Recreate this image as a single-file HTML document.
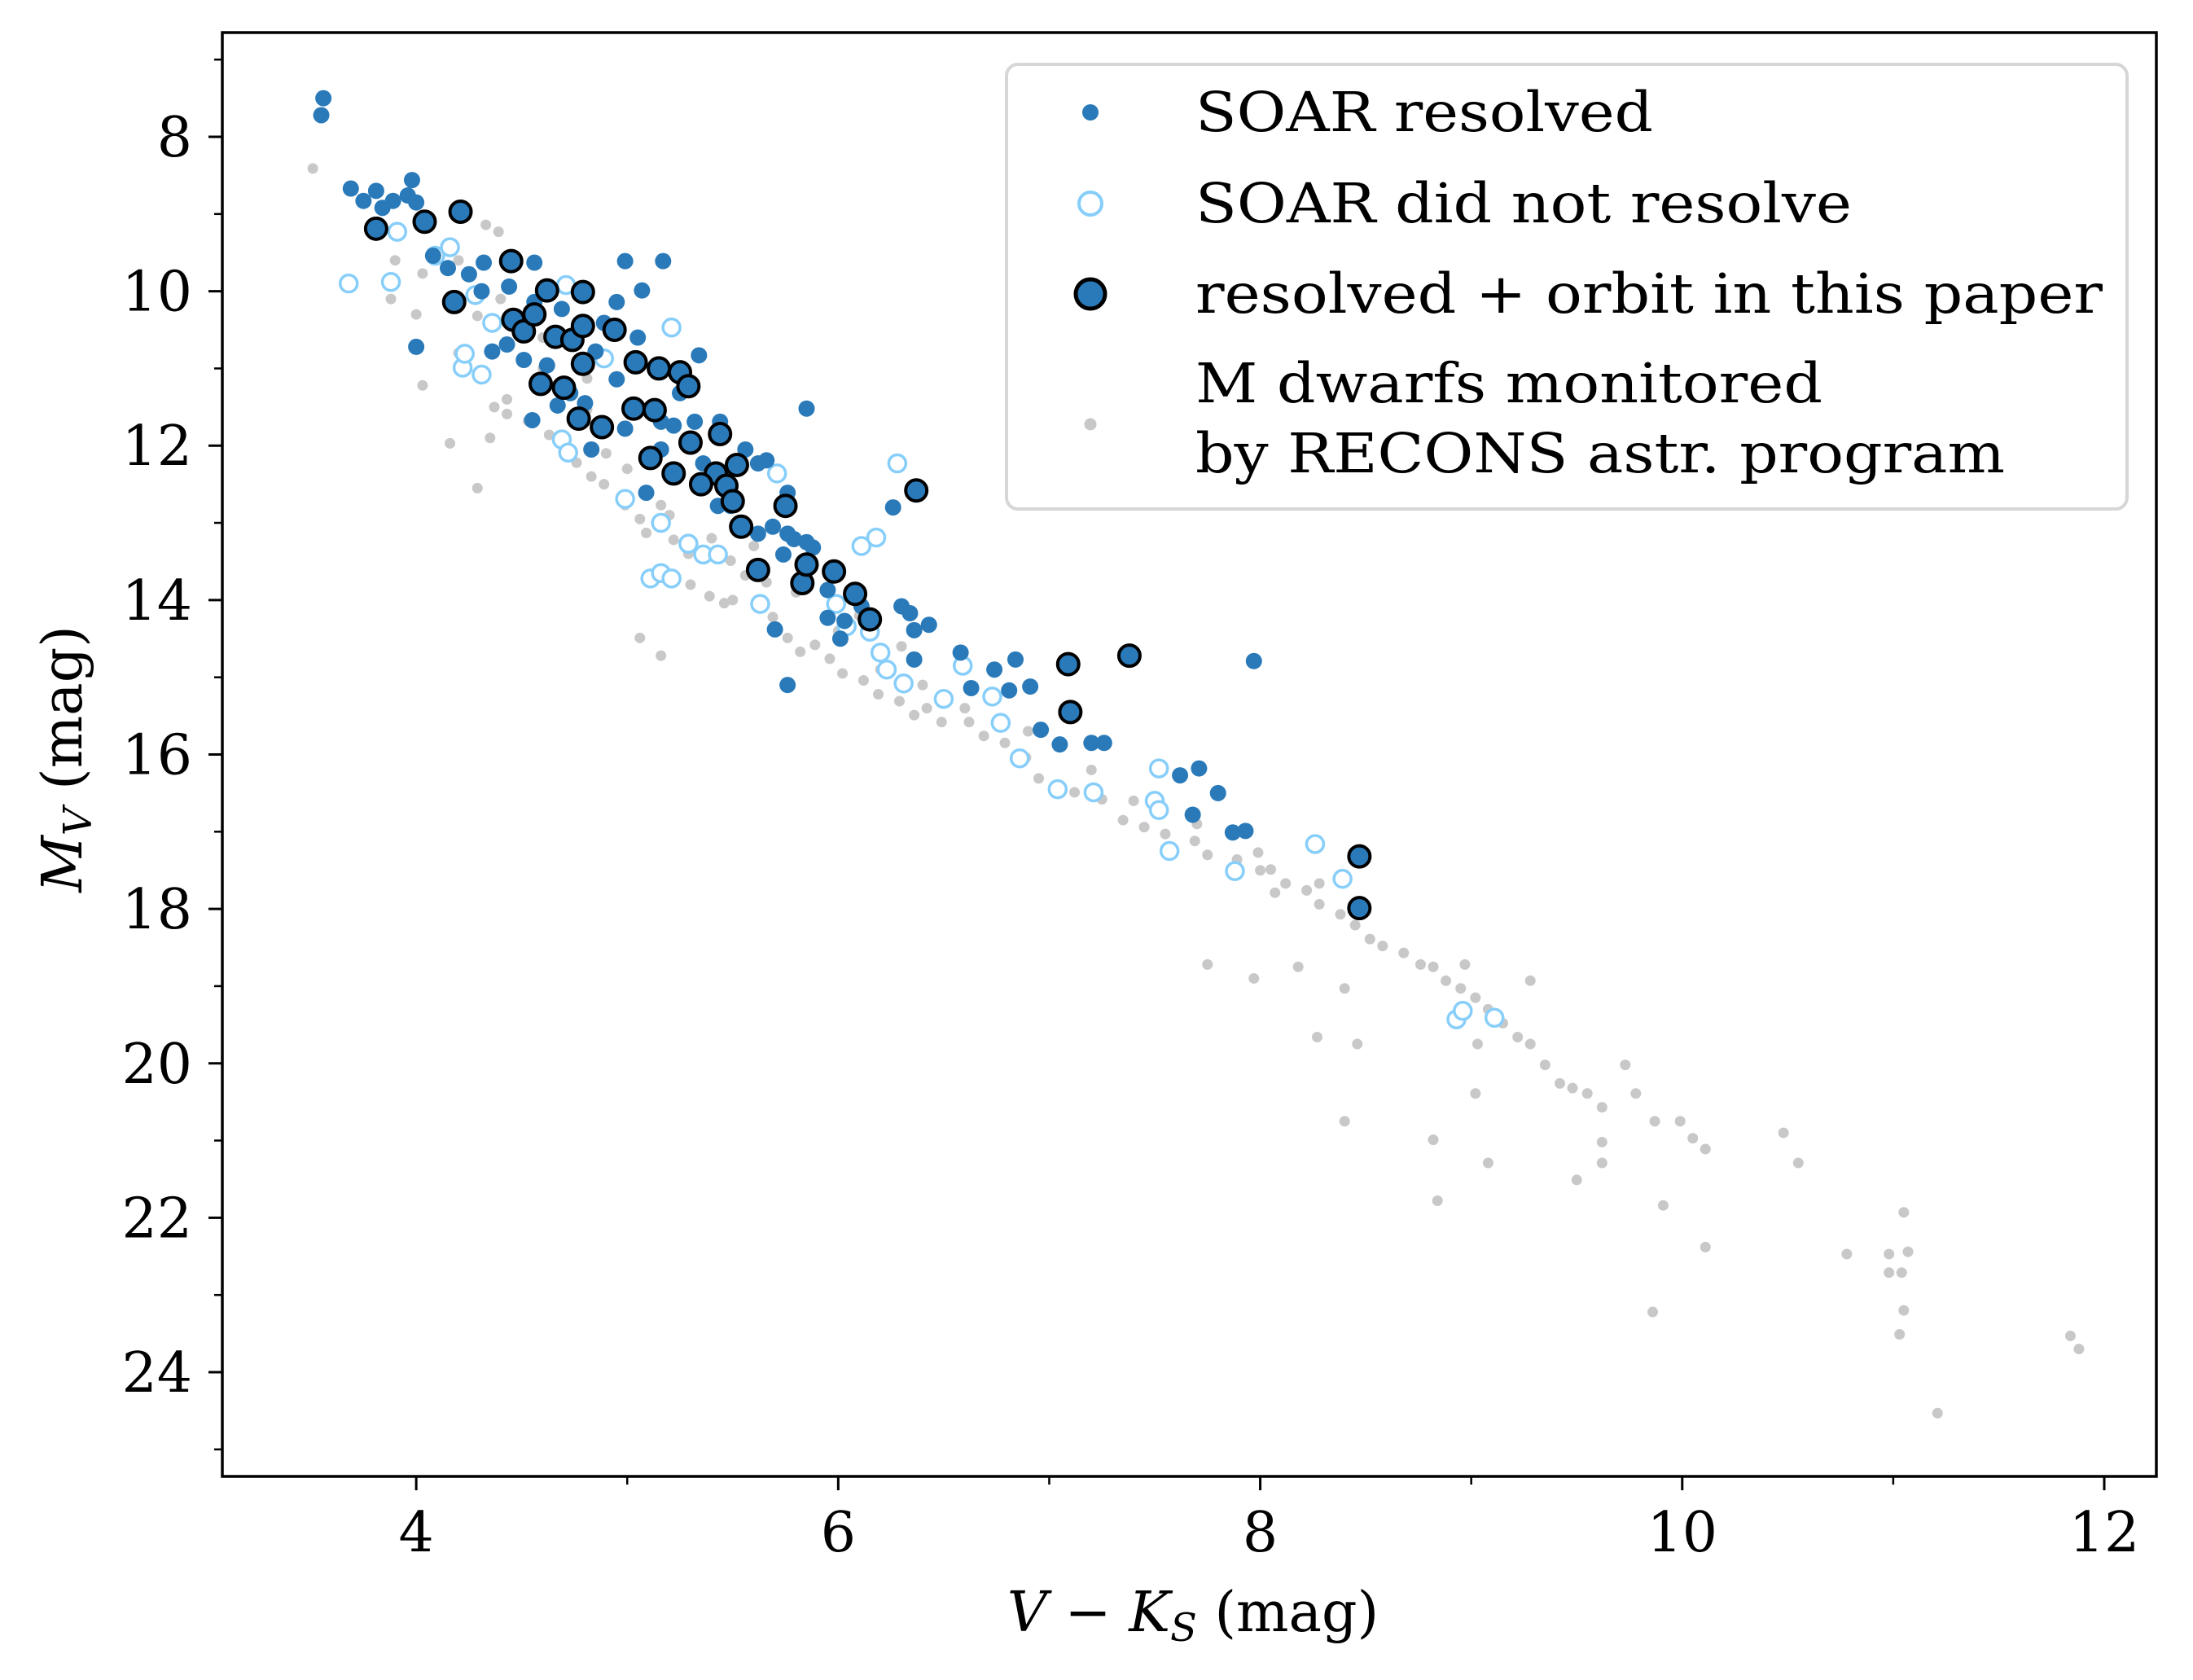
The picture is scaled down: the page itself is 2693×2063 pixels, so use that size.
<!DOCTYPE html>
<html><head><meta charset="utf-8"><style>
html,body{margin:0;padding:0;background:#fff;}
svg{display:block;font-family:"DejaVu Serif","Liberation Serif",serif;}
</style></head><body>
<svg id="chart" width="2693" height="2063" viewBox="0 0 2693 2063" xmlns="http://www.w3.org/2000/svg">
<rect x="0" y="0" width="2693" height="2063" fill="#fff"/>
<g id="plot"></g>
<g id="axes"></g>
</svg>
<script>
const xTicks=[4,6,8,10,12];
const xMinor=[5,7,9,11];
const yTicks=[8,10,12,14,16,18,20,22,24];
const yMinor=[7,9,11,13,15,17,19,21,23,25];
const grayX=[3.51,3.88,4.03,4.16,4.29,4.33,4.39,4.03,4.16,4.29,4.37,4.43,4.53,4.63,4.76,4.83,4.89,4.99,5.06,5.09,5.16,5.22,5.29,5.39,5.46,5.49,5.56,5.66,5.69,5.76,5.82,5.89,5.96,6.02,6.12,6.19,6.29,6.36,6.42,6.49,6.62,6.69,6.79,6.89,6.95,7.05,7.12,7.25,7.35,7.45,7.55,7.69,7.75,7.89,7.99,8.05,8.12,8.22,8.28,8.38,8.45,8.52,8.58,8.68,8.76,8.82,8.88,8.95,9.02,9.08,9.15,9.22,9.28,9.35,9.42,9.48,9.55,9.62,9.73,9.78,9.87,9.99,10.05,10.11,9.62,9.50,9.62,9.91,10.11,10.48,10.55,10.78,10.98,11.05,10.98,11.07,11.05,11.03,11.04,11.21,11.84,11.88,9.86,9.02,9.08,8.82,8.84,8.40,8.40,8.27,8.46,7.75,7.97,8.28,8.07,8.18,9.28,8.97,9.03,5.16,5.06,4.81,4.81,4.43,4.53,4.5,4.6,4.7,4.9,5.0,5.2,5.4,5.6,5.8,6.0,6.2,6.4,6.6,6.9,7.2,7.4,7.7,8.0,4.2,4.4,4.6,4.2,3.9,4.0,4.35,5.3,5.5,6.1,6.3];
const grayY=[8.41,10.10,9.77,10.14,10.32,9.14,9.23,11.22,11.97,12.55,11.50,11.59,11.68,11.86,12.22,12.40,12.50,12.77,12.95,13.13,12.77,13.22,13.40,13.95,14.04,13.49,13.68,13.77,14.22,14.49,14.67,14.58,14.76,14.95,15.04,15.22,15.31,15.49,15.40,15.58,15.58,15.76,15.85,16.04,16.31,16.40,16.49,16.58,16.85,16.94,17.03,17.12,17.30,17.36,17.27,17.49,17.67,17.76,17.94,18.07,18.21,18.39,18.48,18.57,18.72,18.75,18.93,19.03,19.15,19.30,19.48,19.66,19.75,20.02,20.26,20.32,20.39,20.57,20.02,20.39,20.75,20.75,20.97,21.11,21.02,21.51,21.29,21.84,22.38,20.90,21.29,22.47,22.71,21.93,22.47,22.44,23.20,23.51,22.71,24.53,23.53,23.70,23.22,20.39,21.29,20.99,21.78,20.75,19.03,19.66,19.75,18.72,18.90,17.67,17.79,18.75,18.93,18.72,19.75,14.72,14.49,11.53,11.13,11.40,11.68,10.9,11.0,11.9,12.1,12.3,12.9,13.2,13.3,13.9,14.4,14.9,15.1,15.4,15.7,16.2,16.6,16.9,17.5,9.6,10.1,10.6,10.8,9.6,10.3,11.9,13.8,14.0,14.2,14.6];
const openX=[3.68,3.88,3.91,4.09,4.16,4.22,4.31,4.23,4.28,4.36,4.71,4.89,5.21,4.69,4.72,4.99,5.16,5.11,5.16,5.21,5.29,5.36,5.43,5.71,6.28,6.18,6.11,5.63,5.99,6.04,6.15,6.20,6.23,6.31,6.50,6.59,6.73,6.77,6.86,7.04,7.21,7.52,7.50,7.52,7.57,7.88,8.26,8.39,8.93,8.96,9.11];
const openY=[9.90,9.88,9.23,9.54,9.43,10.99,11.08,10.81,10.05,10.41,9.92,10.87,10.47,11.92,12.09,12.69,13.0,13.72,13.65,13.72,13.27,13.41,13.41,12.36,12.23,13.19,13.30,14.05,14.05,14.34,14.41,14.68,14.90,15.08,15.28,14.85,15.25,15.59,16.05,16.45,16.49,16.18,16.60,16.72,17.25,17.51,17.16,17.61,19.43,19.32,19.41];
const resX=[3.56,3.55,3.69,3.75,3.81,3.84,3.89,3.96,3.98,4.0,4.0,4.08,4.15,4.25,4.32,4.31,4.44,4.56,4.99,5.17,5.07,4.55,4.51,4.67,4.80,4.99,5.22,5.34,5.32,5.62,5.66,5.85,5.09,5.69,5.76,5.79,5.85,5.88,5.74,5.70,5.76,5.95,6.01,6.11,6.03,6.26,6.30,6.34,6.36,6.43,6.36,6.58,6.63,6.81,6.84,6.74,6.91,6.96,7.05,7.20,7.26,7.62,7.71,7.68,7.80,7.87,7.93,7.97,5.44,5.56,5.43,4.89,4.95,4.83,5.16,4.73,4.36,4.62,4.85,5.05,5.25,5.36,5.49,5.62,5.76,5.95,4.56,4.69,4.43,5.16,4.95];
const resY=[7.5,7.72,8.67,8.83,8.70,8.92,8.83,8.76,8.56,8.85,10.72,9.54,9.70,9.78,9.63,10.0,9.94,9.63,9.61,9.61,9.99,11.67,10.89,11.48,11.45,11.78,11.74,10.83,11.69,12.23,12.19,11.52,12.61,13.05,13.14,13.21,13.25,13.32,13.41,14.38,15.10,14.23,14.5,14.08,14.27,12.80,14.08,14.17,14.39,14.32,14.77,14.68,15.14,15.17,14.77,14.90,15.12,15.68,15.87,15.85,15.85,16.27,16.18,16.78,16.50,17.01,16.99,14.79,11.69,12.05,12.78,10.41,11.14,12.05,12.05,11.32,10.78,10.96,10.78,10.60,11.32,12.23,12.78,13.14,12.61,13.87,10.14,10.23,10.69,11.69,10.14];
const orbX=[3.81,4.04,4.21,4.45,4.18,4.62,4.79,4.46,4.51,4.56,4.66,4.74,4.79,4.79,4.94,5.04,5.15,5.25,5.29,4.59,4.70,4.77,4.88,5.03,5.13,5.11,5.22,5.30,5.44,5.52,5.42,5.35,5.47,5.50,5.54,5.75,6.37,5.62,5.83,5.85,5.98,6.08,6.15,7.09,7.38,7.10,8.47,8.47];
const orbY=[9.19,9.10,8.97,9.61,10.14,9.99,10.01,10.37,10.52,10.30,10.59,10.63,10.45,10.94,10.50,10.92,11.00,11.05,11.23,11.20,11.25,11.65,11.76,11.52,11.54,12.16,12.36,11.96,11.85,12.25,12.36,12.50,12.52,12.72,13.05,12.78,12.58,13.61,13.78,13.54,13.63,13.92,14.25,14.83,14.72,15.45,17.32,17.99];

const L=273,R=2648,T=40,B=1813;
const xMin=3.081,xMax=12.247,yMin=6.65,yMax=25.35;
function sx(v){return L+(v-xMin)/(xMax-xMin)*(R-L);}
function sy(v){return T+(v-yMin)/(yMax-yMin)*(B-T);}
const NS="http://www.w3.org/2000/svg";
function mk(tag,attrs,parent){const e=document.createElementNS(NS,tag);for(const k in attrs)e.setAttribute(k,attrs[k]);parent.appendChild(e);return e;}
const plot=document.getElementById('plot');
const axes=document.getElementById('axes');

for(let i=0;i<grayX.length;i++){
  const c=mk('circle',{cx:sx(grayX[i]),cy:sy(grayY[i]),r:6.5,fill:'#c8c8c8'},plot);
  
  
}
for(let i=0;i<openX.length;i++){
  const c=mk('circle',{cx:sx(openX[i]),cy:sy(openY[i]),r:10.5,fill:'#fff',stroke:'#87cefa','stroke-width':3.5},plot);
  
  
}
for(let i=0;i<resX.length;i++){
  const c=mk('circle',{cx:sx(resX[i]),cy:sy(resY[i]),r:10,fill:'#2a7ab9'},plot);
  
  
}
for(let i=0;i<orbX.length;i++){
  const c=mk('circle',{cx:sx(orbX[i]),cy:sy(orbY[i]),r:13,fill:'#2a7ab9',stroke:'#000','stroke-width':4},plot);
  
  
}

const fr=mk('rect',{x:L,y:T,width:R-L,height:B-T,fill:'none',stroke:'#000','stroke-width':3.5},axes);


xTicks.forEach(v=>{
  const x=sx(v);
  const t=mk('line',{x1:x,x2:x,y1:B,y2:B+17,stroke:'#000','stroke-width':3},axes);
  
  
  const lb=mk('text',{x:x,y:1905,'font-size':68,'text-anchor':'middle',fill:'#000'},axes);
  lb.textContent=v;
  
  
});
xMinor.forEach(v=>{
  const x=sx(v);
  const t=mk('line',{x1:x,x2:x,y1:B,y2:B+10,stroke:'#000','stroke-width':2.5},axes);
  
  
});
yTicks.forEach(v=>{
  const y=sy(v);
  const t=mk('line',{x1:L-17,x2:L,y1:y,y2:y,stroke:'#000','stroke-width':3},axes);
  
  
  const lb=mk('text',{x:236,y:y+24,'font-size':68,'text-anchor':'end',fill:'#000'},axes);
  lb.textContent=v;
  
  
});
yMinor.forEach(v=>{
  const y=sy(v);
  const t=mk('line',{x1:L-10,x2:L,y1:y,y2:y,stroke:'#000','stroke-width':2.5},axes);
  
  
});
</script>
<svg style="position:absolute;left:0;top:0" width="2693" height="2063">
<g font-family="DejaVu Serif, Liberation Serif, serif" font-size="68" fill="#000">
<text x="1465" y="2003" text-anchor="middle"><tspan font-style="italic">V</tspan> − <tspan font-style="italic">K</tspan><tspan font-style="italic" font-size="48" dy="12">S</tspan><tspan dy="-12"> (mag)</tspan></text>
<text transform="translate(100,932) rotate(-90)" text-anchor="middle"><tspan font-style="italic">M</tspan><tspan font-style="italic" font-size="48" dy="12">V</tspan><tspan dy="-12"> (mag)</tspan></text>
</g>
<g>
<rect x="1236" y="79" width="1376" height="546" rx="14" fill="#fff" fill-opacity="0.8" stroke="#d6d6d6" stroke-width="4"/>
<circle cx="1339" cy="138" r="10" fill="#2a7ab9"/>
<circle cx="1339" cy="250" r="14" fill="#fff" stroke="#87cefa" stroke-width="4"/>
<circle cx="1339" cy="361" r="18" fill="#2a7ab9" stroke="#000" stroke-width="5"/>
<circle cx="1339" cy="521" r="7.5" fill="#c8c8c8"/>
<g font-family="DejaVu Serif, Liberation Serif, serif" font-size="67" fill="#000">
<text x="1468" y="161" textLength="562" lengthAdjust="spacingAndGlyphs">SOAR resolved</text>
<text x="1468" y="273" textLength="806" lengthAdjust="spacingAndGlyphs">SOAR did not resolve</text>
<text x="1468" y="384" textLength="1114" lengthAdjust="spacingAndGlyphs">resolved + orbit in this paper</text>
<text x="1468" y="494" textLength="770" lengthAdjust="spacingAndGlyphs">M dwarfs monitored</text>
<text x="1468" y="580" textLength="994" lengthAdjust="spacingAndGlyphs">by RECONS astr. program</text>
</g>
</g>
</svg>
</body></html>
